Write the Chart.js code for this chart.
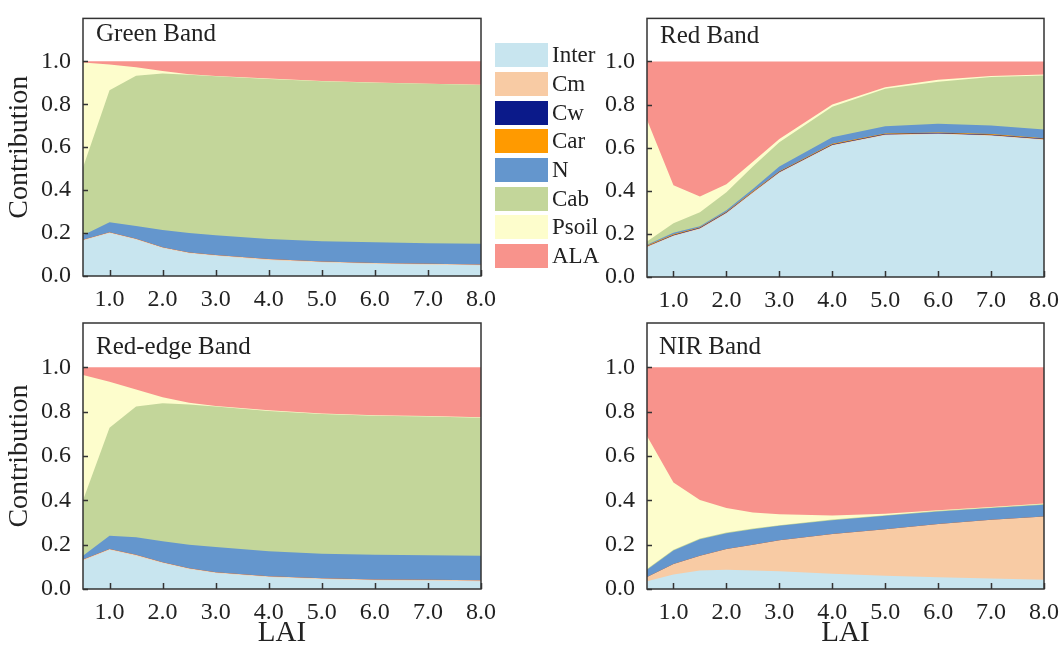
<!DOCTYPE html>
<html>
<head>
<meta charset="utf-8">
<script src="https://cdn.jsdelivr.net/npm/chart.js@4.4.1/dist/chart.umd.min.js"></script>
<style>
  body { margin: 0; background: #fff; font-family: "Liberation Serif", "Times New Roman", serif; }
  #wrap { position: relative; width: 1062px; height: 651px; overflow: hidden; }
  .pane { position: absolute; }
  .band { position: absolute; font-size: 25px; line-height: 24px; color: #222; white-space: nowrap; }
  #legend { position: absolute; left: 495px; top: 41px; }
  .item { display: flex; align-items: center; height: 28.7px; }
  .sw { width: 53px; height: 24px; margin-right: 4px; }
  .item span { font-size: 23px; color: #222; }
</style>
</head>
<body>
<div id="wrap">
  <canvas class="pane" id="c-green" width="510" height="320" style="left:0;top:0"></canvas>
  <canvas class="pane" id="c-red" width="522" height="320" style="left:540px;top:0"></canvas>
  <canvas class="pane" id="c-rededge" width="510" height="351" style="left:0;top:300px"></canvas>
  <canvas class="pane" id="c-nir" width="522" height="351" style="left:540px;top:300px"></canvas>
  <div class="band" style="left:96px;top:21px">Green Band</div>
  <div class="band" style="left:660px;top:23px">Red Band</div>
  <div class="band" style="left:96px;top:334px">Red-edge Band</div>
  <div class="band" style="left:659px;top:334px">NIR Band</div>
  <div id="legend"></div>
</div>

<script>
  // LAI sample points
  const lai = [0.5, 1.0, 1.5, 2.0, 2.5, 3.0, 4.0, 5.0, 6.0, 7.0, 8.0];
  const xTicks = [1, 2, 3, 4, 5, 6, 7, 8];
  const yTicks = [0, 0.2, 0.4, 0.6, 0.8, 1.0];

  const series = ['Inter', 'Cm', 'Cw', 'Car', 'N', 'Cab', 'Psoil', 'ALA'];
  const colors = ['#c8e5ef', '#f8cba4', '#0b1a8a', '#ff9a00', '#6496cd', '#c3d69a', '#fdfdcc', '#f8938c'];

  // contributions per series (same order as `series`)
  const greenBand = [
    [0.165, 0.200, 0.170, 0.130, 0.106, 0.094, 0.075, 0.064, 0.057, 0.054, 0.050],
    [0.004, 0.004, 0.004, 0.004, 0.004, 0.004, 0.004, 0.004, 0.003, 0.003, 0.003],
    [0, 0, 0, 0, 0, 0, 0, 0, 0, 0, 0],
    [0, 0, 0, 0, 0, 0, 0, 0, 0, 0, 0],
    [0.021, 0.046, 0.059, 0.080, 0.090, 0.092, 0.093, 0.094, 0.097, 0.096, 0.097],
    [0.316, 0.615, 0.700, 0.729, 0.737, 0.740, 0.746, 0.745, 0.743, 0.742, 0.740],
    [0.489, 0.120, 0.040, 0.012, 0.003, 0.002, 0.002, 0.001, 0.001, 0.001, 0.001],
    [0.005, 0.015, 0.027, 0.045, 0.060, 0.068, 0.080, 0.092, 0.099, 0.104, 0.109]
  ];

  const redBand = [
    [0.138, 0.190, 0.223, 0.295, 0.390, 0.483, 0.610, 0.658, 0.663, 0.655, 0.636],
    [0.003, 0.003, 0.003, 0.003, 0.003, 0.003, 0.003, 0.003, 0.003, 0.003, 0.003],
    [0.002, 0.002, 0.002, 0.002, 0.002, 0.002, 0.002, 0.002, 0.002, 0.002, 0.002],
    [0.003, 0.003, 0.003, 0.003, 0.003, 0.003, 0.003, 0.003, 0.003, 0.003, 0.003],
    [0.004, 0.007, 0.004, 0.007, 0.010, 0.022, 0.030, 0.034, 0.040, 0.040, 0.041],
    [0.015, 0.045, 0.065, 0.083, 0.105, 0.112, 0.142, 0.173, 0.195, 0.225, 0.250],
    [0.565, 0.176, 0.073, 0.037, 0.022, 0.015, 0.010, 0.007, 0.009, 0.005, 0.005],
    [0.270, 0.574, 0.627, 0.570, 0.465, 0.360, 0.200, 0.120, 0.085, 0.067, 0.060]
  ];

  const redEdgeBand = [
    [0.129, 0.177, 0.150, 0.117, 0.090, 0.072, 0.054, 0.045, 0.039, 0.038, 0.035],
    [0.004, 0.004, 0.004, 0.004, 0.004, 0.004, 0.004, 0.004, 0.004, 0.004, 0.004],
    [0, 0, 0, 0, 0, 0, 0, 0, 0, 0, 0],
    [0, 0, 0, 0, 0, 0, 0, 0, 0, 0, 0],
    [0.017, 0.059, 0.079, 0.094, 0.106, 0.114, 0.112, 0.110, 0.112, 0.110, 0.111],
    [0.250, 0.488, 0.590, 0.623, 0.632, 0.633, 0.633, 0.631, 0.627, 0.626, 0.623],
    [0.565, 0.207, 0.077, 0.027, 0.008, 0.003, 0.003, 0.002, 0.002, 0.002, 0.002],
    [0.035, 0.065, 0.100, 0.135, 0.160, 0.174, 0.194, 0.208, 0.216, 0.220, 0.225]
  ];

  const nirBand = [
    [0.035, 0.065, 0.084, 0.087, 0.084, 0.080, 0.069, 0.060, 0.053, 0.047, 0.042],
    [0.019, 0.048, 0.066, 0.093, 0.116, 0.140, 0.179, 0.210, 0.240, 0.265, 0.285],
    [0, 0, 0, 0, 0, 0, 0, 0, 0, 0, 0],
    [0, 0, 0, 0, 0, 0, 0, 0, 0, 0, 0],
    [0.033, 0.061, 0.075, 0.072, 0.070, 0.065, 0.062, 0.060, 0.057, 0.053, 0.053],
    [0.003, 0.003, 0.003, 0.003, 0.003, 0.003, 0.003, 0.003, 0.003, 0.003, 0.003],
    [0.600, 0.303, 0.174, 0.110, 0.072, 0.049, 0.019, 0.007, 0.002, 0.002, 0.003],
    [0.310, 0.520, 0.598, 0.635, 0.655, 0.663, 0.668, 0.660, 0.645, 0.630, 0.614]
  ];

  const FONT = '"Liberation Serif", "Times New Roman", serif';
  const INK = '#222';

  // frame + inward tick marks
  const framePlugin = {
    id: 'frame',
    afterDatasetsDraw(chart) {
      const { ctx, chartArea: a, scales: { x, y } } = chart;
      ctx.save();
      ctx.strokeStyle = '#333';
      ctx.lineWidth = 1.5;
      ctx.beginPath();
      x.ticks.forEach(t => {
        const px = Math.round(x.getPixelForValue(t.value)) + 0.5;
        ctx.moveTo(px, a.bottom);
        ctx.lineTo(px, a.bottom - 6);
      });
      y.ticks.forEach(t => {
        const py = Math.round(y.getPixelForValue(t.value)) + 0.5;
        ctx.moveTo(a.left, py);
        ctx.lineTo(a.left + 5, py);
      });
      ctx.stroke();
      ctx.strokeRect(a.left, a.top, a.right - a.left, a.bottom - a.top);
      ctx.restore();
    }
  };

  function makeChart(id, band, opts) {
    const ctx = document.getElementById(id).getContext('2d');
    return new Chart(ctx, {
      type: 'line',
      data: {
        datasets: series.map((name, k) => ({
          label: name,
          data: lai.map((v, i) => ({ x: v, y: band[k][i] })),
          backgroundColor: colors[k],
          borderColor: 'transparent',
          borderWidth: 0,
          pointRadius: 0,
          fill: 'origin',
          tension: 0
        }))
      },
      options: {
        responsive: false,
        animation: false,
        events: [],
        layout: { padding: opts.padding },
        plugins: { legend: { display: false }, tooltip: { enabled: false } },
        scales: {
          x: {
            type: 'linear',
            min: 0.5,
            max: 8,
            grid: { display: false },
            border: { display: false },
            afterBuildTicks: s => { s.ticks = xTicks.map(v => ({ value: v })); },
            afterFit: s => { s.height = opts.xHeight; },
            ticks: {
              font: { family: FONT, size: 24 },
              color: INK,
              padding: 1,
              maxRotation: 0,
              autoSkip: false,
              callback: v => Number(v).toFixed(1)
            },
            title: {
              display: opts.xTitle,
              text: 'LAI',
              font: { family: FONT, size: 29 },
              color: INK,
              padding: { top: 0, bottom: 0 }
            }
          },
          y: {
            stacked: true,
            min: 0,
            max: 1.2,
            grid: { display: false },
            border: { display: false },
            afterBuildTicks: s => { s.ticks = yTicks.map(v => ({ value: v })); },
            afterFit: s => { s.width = opts.yWidth; },
            ticks: {
              font: { family: FONT, size: 24 },
              color: INK,
              padding: 4,
              callback: v => Number(v).toFixed(1)
            },
            title: {
              display: opts.yTitle,
              text: 'Contribution',
              font: { family: FONT, size: 28 },
              color: INK,
              padding: { top: 3, bottom: 0 }
            }
          }
        }
      },
      plugins: [framePlugin]
    });
  }

  makeChart('c-green', greenBand, {
    padding: { top: 9, right: 29, bottom: 0, left: 0 }, xHeight: 44, yWidth: 83, xTitle: false, yTitle: true
  });
  makeChart('c-red', redBand, {
    padding: { top: 10, right: 18, bottom: 0, left: 0 }, xHeight: 43, yWidth: 107, xTitle: false, yTitle: false
  });
  makeChart('c-rededge', redEdgeBand, {
    padding: { top: 23, right: 29, bottom: 0, left: 0 }, xHeight: 62, yWidth: 83, xTitle: true, yTitle: true
  });
  makeChart('c-nir', nirBand, {
    padding: { top: 23, right: 18, bottom: 0, left: 0 }, xHeight: 62, yWidth: 107, xTitle: true, yTitle: false
  });

  // legend
  const legend = document.getElementById('legend');
  series.forEach((name, k) => {
    const row = document.createElement('div');
    row.className = 'item';
    row.innerHTML = '<div class="sw" style="background:' + colors[k] + '"></div><span>' + name + '</span>';
    legend.appendChild(row);
  });
</script>
</body>
</html>
